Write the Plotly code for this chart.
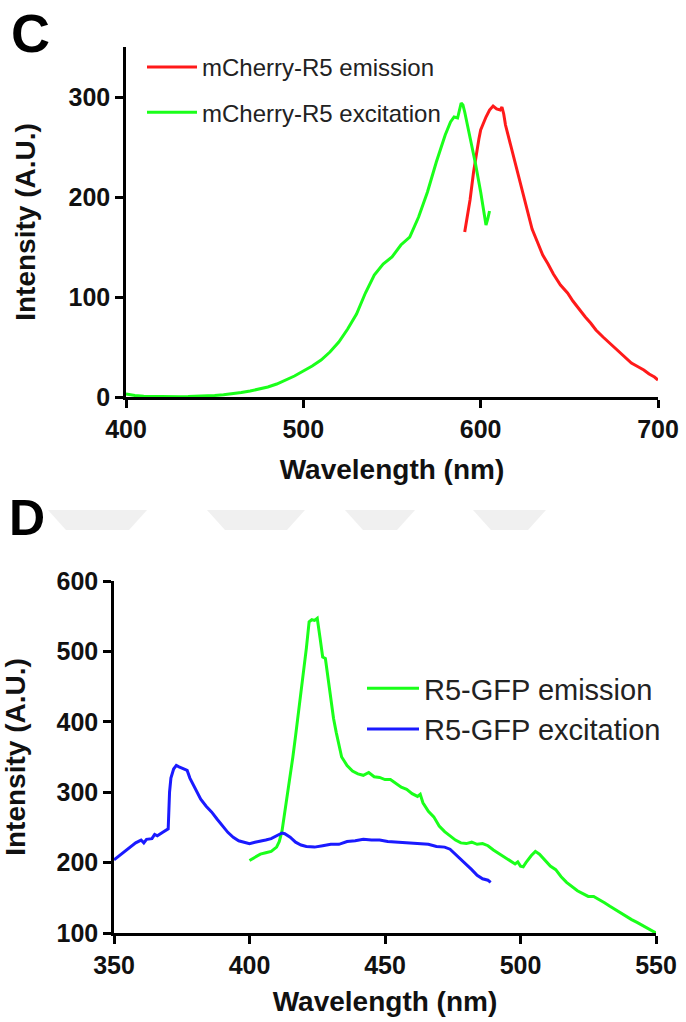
import plotly.graph_objects as go

# panel C: mCherry-R5
c_em_nm = [591, 592, 594, 596, 597, 599, 600, 601, 603, 605, 607, 609, 611, 612, 613, 614, 616, 618, 620,
           623, 626, 629, 632, 635, 638, 641, 645, 649, 652, 655, 659, 662, 665, 669, 672, 675, 679, 682,
           685, 689, 692, 695, 698, 700]
c_em_val = [165, 175, 197, 225, 237, 258, 267, 272, 280, 287, 291, 288, 287, 290, 283, 272, 258, 245, 230,
            210, 188, 168, 155, 142, 133, 123, 112, 104, 96, 89, 80, 74, 67, 60, 55, 50, 44, 39,
            34, 30, 27, 23, 20, 17]

c_ex_nm = [400, 405, 410, 415, 420, 425, 430, 435, 440, 445, 450, 455, 460, 465, 470, 475, 480, 485, 490,
           495, 500, 505, 510, 515, 520, 525, 530, 535, 540, 545, 550, 555, 560, 565, 570, 575, 580, 583,
           585, 587, 589, 590, 591, 593, 595, 597, 600, 602, 603, 604, 605]
c_ex_val = [3, 1.5, 0.8, 0.5, 0.3, 0.2, 0.3, 0.4, 0.6, 1, 1.5, 2.2, 3, 4.5, 6, 8, 10, 13, 17,
            21, 26, 31, 37, 45, 55, 68, 83, 104, 122, 133, 140, 152, 160, 180, 205, 235, 262, 275,
            280, 279, 294, 292, 285, 268, 252, 234, 205, 185, 172, 178, 186]

# panel D: R5-GFP
d_em_nm = [400, 402, 404, 406, 408, 410, 411, 412, 413, 414, 415, 416, 417, 418, 419, 420, 421, 422, 423,
           424, 425, 426, 427, 428, 429, 430, 431, 432, 433, 434, 436, 438, 440, 442, 444, 446, 448, 450,
           452, 454, 456, 458, 460, 462, 463, 464, 466, 468, 470, 472, 474, 476, 478, 480, 482, 484, 486,
           488, 490, 492, 494, 496, 498, 499, 500, 501, 502, 504, 505.5, 507, 509, 511, 513, 515, 517, 519,
           521, 523, 525, 527, 529, 531, 533, 535, 537, 539, 541, 543, 545, 547, 549, 550]
d_em_val = [203, 207, 212, 214, 216, 222, 230, 245, 270, 300, 320, 350, 380, 410, 440, 470, 505, 542, 545,
            544, 547, 520, 492, 490, 460, 430, 405, 385, 365, 350, 338, 330, 326, 324, 328, 322, 321, 318,
            318, 312, 307, 304, 298, 294, 297, 285, 273, 265, 252, 244, 238, 232, 228, 227, 229, 226, 227,
            224, 218, 213, 208, 202, 198, 201, 195, 194, 200, 210, 216, 212, 204, 195, 190, 180, 172, 166,
            160, 156, 152, 152, 148, 143, 138, 133, 128, 124, 119, 115, 111, 107, 102, 100]

d_ex_nm = [350, 352, 354, 356, 358, 360, 361, 362, 364, 365, 366, 368, 369, 370, 370.5, 371, 372, 373, 374,
           376, 377, 378, 380, 382, 384, 386, 388, 390, 392, 394, 396, 398, 400, 402, 404, 406, 408, 410,
           412, 413, 415, 417, 419, 421, 424, 427, 430, 433, 436, 439, 442, 445, 448, 451, 454, 457, 460,
           463, 466, 469, 472, 474, 476, 478, 480, 482, 484, 486, 488, 489]
d_ex_val = [204, 210, 216, 222, 228, 232, 228, 233, 234, 240, 238, 243, 246, 248, 300, 320, 333, 338, 336,
            333, 331, 320, 305, 290, 280, 272, 262, 252, 243, 236, 231, 229, 227, 229, 230, 232, 234, 238,
            242, 241, 236, 229, 225, 223, 222, 224, 226, 226, 230, 231, 233, 232, 232, 230, 229, 228, 227,
            227, 226, 223, 222, 219, 212, 205, 198, 190, 182, 177, 175, 172]

c_yticks = [0, 100, 200, 300]
d_yticks = [100, 200, 300, 400, 500, 600]
c_xticks = [400, 500, 600, 700]
d_xticks = [350, 400, 450, 500, 550]

W, H = 686, 1022
BOLD = dict(family="Liberation Sans", size=25, color="#111111", weight="bold")
TITLE = dict(family="Liberation Sans", size=28, color="#111111", weight="bold")


def px_x(p):
    return p / W


def px_y(p):
    return 1 - p / H


fig = go.Figure()

fig.add_trace(go.Scatter(x=c_em_nm, y=c_em_val, mode="lines", name="mCherry-R5 emission",
                         line=dict(color="#ff1a1a", width=3), legendgroup="c1", legend="legend"))
fig.add_trace(go.Scatter(x=c_ex_nm, y=c_ex_val, mode="lines", name="mCherry-R5 excitation",
                         line=dict(color="#1aff1a", width=3), legendgroup="c2", legend="legend"))
fig.add_trace(go.Scatter(x=d_em_nm, y=d_em_val, mode="lines", name="R5-GFP emission",
                         line=dict(color="#1aff1a", width=3), legendgroup="d1", legend="legend2",
                         xaxis="x2", yaxis="y2"))
fig.add_trace(go.Scatter(x=d_ex_nm, y=d_ex_val, mode="lines", name="R5-GFP excitation",
                         line=dict(color="#1a1aff", width=3), legendgroup="d2", legend="legend2",
                         xaxis="x2", yaxis="y2"))

axis_style = dict(showgrid=False, zeroline=False, showline=True, linecolor="black", linewidth=2.5,
                  ticks="outside", ticklen=8, tickwidth=2.5, tickcolor="black", tickfont=BOLD,
                  automargin=False)

fig.update_layout(
    width=W, height=H,
    margin=dict(l=0, r=0, t=0, b=0),
    paper_bgcolor="white", plot_bgcolor="white",
    xaxis=dict(domain=[px_x(126), px_x(658)], range=[400, 700], tickvals=c_xticks, anchor="y",
               title=dict(text="Wavelength (nm)", font=TITLE, standoff=18), **axis_style),
    yaxis=dict(domain=[px_y(397), px_y(47)], range=[0, 350], tickvals=c_yticks, anchor="x",
               title=dict(text="Intensity (A.U.)", font=TITLE, standoff=25), **axis_style),
    xaxis2=dict(domain=[px_x(114), px_x(656)], range=[350, 550], tickvals=d_xticks, anchor="y2",
                title=dict(text="Wavelength (nm)", font=TITLE, standoff=14), **axis_style),
    yaxis2=dict(domain=[px_y(933), px_y(581)], range=[100, 600], tickvals=d_yticks, anchor="x2",
                title=dict(text="Intensity (A.U.)", font=TITLE, standoff=25), **axis_style),
    legend=dict(x=px_x(142), y=px_y(45), xanchor="left", yanchor="top", bgcolor="rgba(0,0,0,0)",
                font=dict(family="Liberation Sans", size=24, color="#222222"),
                itemwidth=50, tracegroupgap=11),
    legend2=dict(x=px_x(362), y=px_y(663), xanchor="left", yanchor="top", bgcolor="rgba(0,0,0,0)",
                 font=dict(family="Liberation Sans", size=29, color="#222222"),
                 itemwidth=52, tracegroupgap=0),
    showlegend=True,
)

# panel letters
fig.add_annotation(text="C", x=px_x(30), y=px_y(33), xref="paper", yref="paper", showarrow=False,
                   xanchor="center", yanchor="middle",
                   font=dict(family="Liberation Sans", size=54, color="black", weight="bold"))
fig.add_annotation(text="D", x=px_x(27), y=px_y(518), xref="paper", yref="paper", showarrow=False,
                   xanchor="center", yanchor="middle",
                   font=dict(family="Liberation Sans", size=50, color="black", weight="bold"))

# faint watermark band
for left, right in [(48, 147), (207, 305), (345, 415), (473, 546)]:
    path = "M {:.4f},{:.4f} L {:.4f},{:.4f} L {:.4f},{:.4f} L {:.4f},{:.4f} Z".format(
        px_x(left), px_y(510), px_x(right), px_y(510), px_x(right - 18), px_y(530), px_x(left + 18), px_y(530))
    fig.add_shape(type="path", path=path, xref="paper", yref="paper", fillcolor="#f0f0f0",
                  line=dict(width=0), layer="below")

# the page's default body margin would shift the figure by 8px
fig.write_html("out.html", config={"displayModeBar": False},
               post_script="document.body.style.margin = '0';")
